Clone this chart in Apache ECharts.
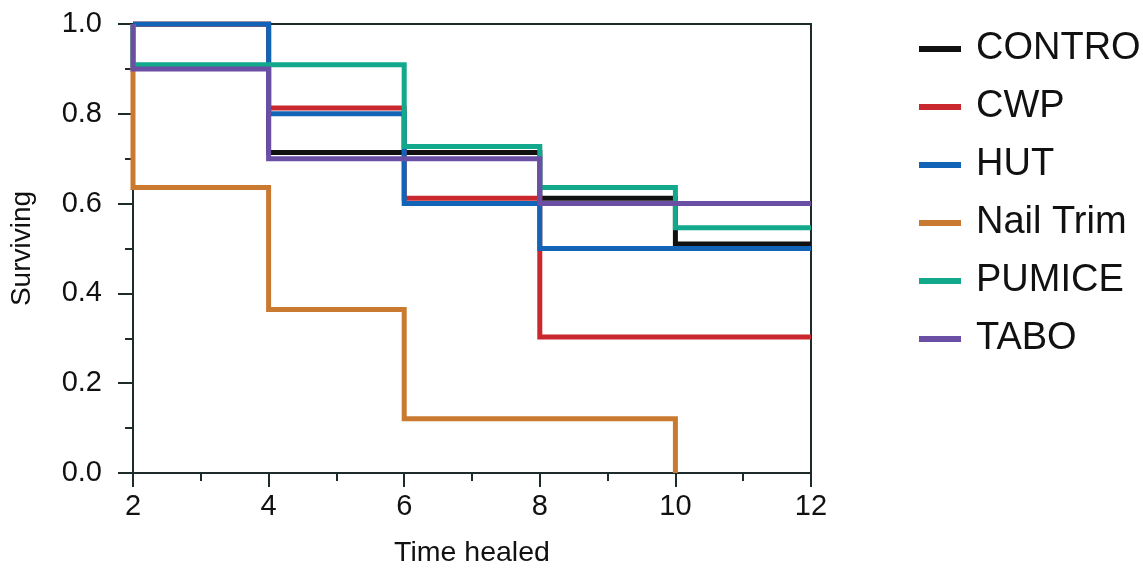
<!DOCTYPE html>
<html>
<head>
<meta charset="utf-8">
<script src="https://cdn.jsdelivr.net/npm/echarts@6/dist/echarts.min.js"></script>
<style>
html,body{margin:0;padding:0;background:#fff;}
#chart{width:1143px;height:568px;}
</style>
</head>
<body>
<div id="chart"></div>
<script>
// Kaplan-Meier step data: time points and surviving fraction
const seriesNames = ['CONTRO', 'CWP', 'HUT', 'Nail Trim', 'PUMICE', 'TABO'];
const controTime = [2, 4, 8, 10, 12];
const controSurv = [1.0, 0.714, 0.612, 0.510, 0.510];
const cwpTime = [2, 4, 6, 8, 12];
const cwpSurv = [1.0, 0.813, 0.612, 0.303, 0.303];
const hutTime = [2, 4, 6, 8, 12];
const hutSurv = [1.0, 0.800, 0.600, 0.500, 0.500];
const nailTime = [2, 2, 4, 6, 10];
const nailSurv = [1.0, 0.636, 0.364, 0.121, 0.0];
const pumiceTime = [2, 2, 6, 8, 10, 12];
const pumiceSurv = [1.0, 0.909, 0.727, 0.636, 0.546, 0.546];
const taboTime = [2, 2, 4, 8, 12];
const taboSurv = [1.0, 0.900, 0.700, 0.600, 0.600];
const xTicks = [2, 4, 6, 8, 10, 12];
const yTicks = [0.0, 0.2, 0.4, 0.6, 0.8, 1.0];

const colors = ['#111111', '#c8282e', '#1264b6', '#c97a30', '#12a88c', '#6a4fa4'];
const times = [controTime, cwpTime, hutTime, nailTime, pumiceTime, taboTime];
const survs = [controSurv, cwpSurv, hutSurv, nailSurv, pumiceSurv, taboSurv];

const axisColor = '#1e2b2b';
const font = 'Liberation Sans, Arial, Helvetica, sans-serif';

const chart = echarts.init(document.getElementById('chart'));
chart.setOption({
  animation: false,
  backgroundColor: '#ffffff',
  grid: {
    left: 133, right: 332, top: 24, bottom: 95,
    outerBoundsMode: 'none', containLabel: false,
    show: true, borderColor: axisColor, borderWidth: 2, backgroundColor: 'transparent'
  },
  legend: {
    orient: 'vertical',
    left: 919, top: 30,
    padding: 0,
    icon: 'rect',
    itemWidth: 42, itemHeight: 6,
    itemGap: 20,
    data: seriesNames,
    textStyle: { fontFamily: font, fontSize: 38, color: '#111', padding: [0, 0, 0, 10] }
  },
  xAxis: {
    type: 'value', min: xTicks[0], max: xTicks[xTicks.length - 1], interval: 2,
    name: 'Time healed', nameLocation: 'middle', nameGap: 66,
    nameTextStyle: { fontFamily: font, fontSize: 28.5, color: '#111' },
    axisLine: { show: true, lineStyle: { color: axisColor, width: 2 } },
    axisTick: { show: true, inside: false, length: 14, lineStyle: { color: axisColor, width: 2 } },
    minorTick: { show: true, splitNumber: 2, length: 8, lineStyle: { color: axisColor, width: 2 } },
    axisLabel: { fontFamily: font, fontSize: 29, color: '#111', margin: 19 },
    splitLine: { show: false }
  },
  yAxis: {
    type: 'value', min: yTicks[0], max: yTicks[yTicks.length - 1], interval: 0.2,
    name: 'Surviving', nameLocation: 'middle', nameGap: 97, nameRotate: 90,
    nameTextStyle: { fontFamily: font, fontSize: 28, color: '#111' },
    axisLine: { show: true, lineStyle: { color: axisColor, width: 2 } },
    axisTick: { show: true, inside: false, length: 15, lineStyle: { color: axisColor, width: 2 } },
    minorTick: { show: true, splitNumber: 2, length: 8, lineStyle: { color: axisColor, width: 2 } },
    axisLabel: { fontFamily: font, fontSize: 29, color: '#111', margin: 31,
      formatter: v => v.toFixed(1) },
    splitLine: { show: false }
  },
  series: seriesNames.map((name, i) => ({
    name: name,
    type: 'line',
    step: 'end',
    showSymbol: false,
    symbol: 'none',
    clip: true,
    color: colors[i],
    lineStyle: { color: colors[i], width: 5, join: 'miter', cap: 'butt' },
    itemStyle: { color: colors[i] },
    data: times[i].map((t, j) => [t, survs[i][j]])
  }))
});
</script>
</body>
</html>
